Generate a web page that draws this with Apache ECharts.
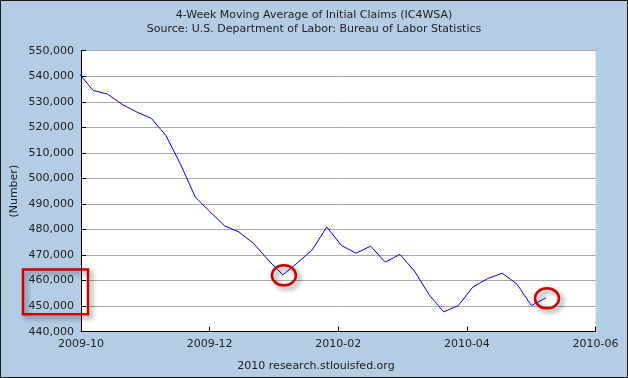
<!DOCTYPE html>
<html><head><meta charset="utf-8">
<script src="https://cdn.jsdelivr.net/npm/echarts@6/dist/echarts.min.js"></script>
<style>html,body{margin:0;padding:0;background:#b4cde5}#c{width:628px;height:378px}</style>
</head><body><div id="c"></div>
<script>
// ---- data ----
const weekDates = [
  '2009-09-26','2009-10-03','2009-10-10','2009-10-17','2009-10-24','2009-10-31',
  '2009-11-07','2009-11-14','2009-11-21','2009-11-28','2009-12-05','2009-12-12',
  '2009-12-19','2009-12-26','2010-01-02','2010-01-09','2010-01-16','2010-01-23',
  '2010-01-30','2010-02-06','2010-02-13','2010-02-20','2010-02-27','2010-03-06',
  '2010-03-13','2010-03-20','2010-03-27','2010-04-03','2010-04-10','2010-04-17',
  '2010-04-24','2010-05-01','2010-05-08'
];
const claims4wk = [
  541500, 534500, 533000, 529000, 526000, 523500,
  516750, 505500, 492750, 487000, 481500, 479000,
  474500, 468000, 462250, 467000, 472000, 481000,
  473750, 470750, 473500, 467250, 470250, 463750,
  454500, 447750, 450250, 457500, 460750, 462900,
  458750, 450250, 453250
];
const xTickLabels = ['2009-10', '2009-12', '2010-02', '2010-04', '2010-06'];
const xAxisRange = ['2009-09-27 07:00', '2010-05-31 17:00'];
const yMin = 440000, yMax = 550000, yStep = 10000;
const titleLines = ['4-Week Moving Average of Initial Claims (IC4WSA)',
                    'Source: U.S. Department of Labor: Bureau of Labor Statistics'];
const yAxisName = '(Number)';
const footerText = '2010 research.stlouisfed.org';
const circledDates = ['2010-01-02', '2010-05-08'];
const boxedValues = [460000, 450000];

// ---- helpers ----
function toTime(s) {
  const parts = s.split(' ');
  const d = parts[0].split('-').map(Number);
  const t = (parts[1] || '00:00').split(':').map(Number);
  return new Date(d[0], d[1] - 1, d[2], t[0], t[1]).getTime();
}
const xMin = toTime(xAxisRange[0]), xMax = toTime(xAxisRange[1]);
const tickTimes = xTickLabels.map((_, i) => xMin + (xMax - xMin) * i / (xTickLabels.length - 1));
function tickLabelFor(v) {
  let best = 0, bd = Infinity;
  tickTimes.forEach((t, i) => { const d = Math.abs(t - v); if (d < bd) { bd = d; best = i; } });
  return xTickLabels[best];
}
const seriesData = weekDates.map((d, i) => [toTime(d), claims4wk[i]]);
const FONT = 'DejaVu Sans';
const TXT = '#222';

const chart = echarts.init(document.getElementById('c'), null, {renderer: 'canvas'});
chart.setOption({
  animation: false,
  backgroundColor: '#b4cde5',
  textStyle: {fontFamily: FONT},
  title: {
    text: titleLines.join('\n'),
    left: 'center', top: 3,
    textStyle: {fontSize: 11, fontWeight: 'normal', color: TXT, lineHeight: 14, fontFamily: FONT}
  },
  grid: {left: 81, right: 32.5, top: 50.7, bottom: 46.3, containLabel: false, outerBoundsMode: 'none',
         show: true, backgroundColor: '#ffffff', borderWidth: 0},
  xAxis: {
    type: 'value', min: xMin, max: xMax, scale: true,
    axisLine: {show: true, onZero: false, lineStyle: {color: '#000', width: 1}},
    axisTick: {show: true, inside: true, length: 5, lineStyle: {color: '#000'}, customValues: tickTimes},
    axisLabel: {customValues: tickTimes, formatter: v => tickLabelFor(v), fontSize: 11, color: TXT,
                margin: 7, fontFamily: FONT, showMinLabel: true, showMaxLabel: true},
    splitLine: {show: false}
  },
  yAxis: {
    type: 'value', min: yMin, max: yMax, interval: yStep,
    axisLine: {show: true, onZero: false, lineStyle: {color: '#000', width: 1}},
    axisTick: {show: true, inside: true, length: 5, lineStyle: {color: '#000'}},
    axisLabel: {fontSize: 11, color: TXT, margin: 7, fontFamily: FONT,
                formatter: v => v.toLocaleString('en-US')},
    splitLine: {show: true, lineStyle: {color: '#a8a8a8', width: 1}}
  },
  series: [{
    type: 'line', data: seriesData, showSymbol: false, symbol: 'none', clip: true,
    lineStyle: {color: '#0000ff', width: 1}
  }]
});

// ---- annotations placed through the chart's own scales ----
function valueAt(date) { return claims4wk[weekDates.indexOf(date)]; }
const px = (x, y) => chart.convertToPixel({gridIndex: 0}, [x, y]);
const gr = [];
circledDates.forEach(d => {
  const p = px(toTime(d), valueAt(d));
  gr.push({
    type: 'ellipse', shape: {cx: p[0] + 1, cy: p[1] + 0.5, rx: 12, ry: 10}, z: 100,
    style: {fill: 'none', stroke: '#cc0000', lineWidth: 2.5,
            shadowBlur: 5, shadowColor: 'rgba(0,0,0,0.45)', shadowOffsetX: 3, shadowOffsetY: 3}
  });
});
const yTop = px(xMin, boxedValues[0])[1] - 11;
const yBot = px(xMin, boxedValues[1])[1] + 8;
const axisX = px(xMin, yMin)[0];
const midY = (px(xMin, yMin)[1] + px(xMin, yMax)[1]) / 2;
gr.push({
  type: 'rect', shape: {x: 23, y: yTop, width: axisX + 7 - 23, height: yBot - yTop}, z: 100,
  style: {fill: 'none', stroke: '#cc0000', lineWidth: 2.5,
          shadowBlur: 5, shadowColor: 'rgba(0,0,0,0.45)', shadowOffsetX: 3, shadowOffsetY: 3}
});
gr.push({
  type: 'text', x: 14, y: midY, rotation: Math.PI / 2,
  style: {text: yAxisName, fontSize: 11, fill: TXT, fontFamily: FONT, align: 'center', verticalAlign: 'middle'}
});
gr.push({
  type: 'text', x: 316, y: 366,
  style: {text: footerText, fontSize: 11, fill: TXT, fontFamily: FONT, align: 'center', verticalAlign: 'middle'}
});
gr.push({
  type: 'rect', shape: {x: 0.5, y: 0.5, width: 627, height: 377}, z: 200,
  style: {fill: 'none', stroke: '#1a1a1a', lineWidth: 1}
});
chart.setOption({graphic: gr});
</script>
</body></html>
